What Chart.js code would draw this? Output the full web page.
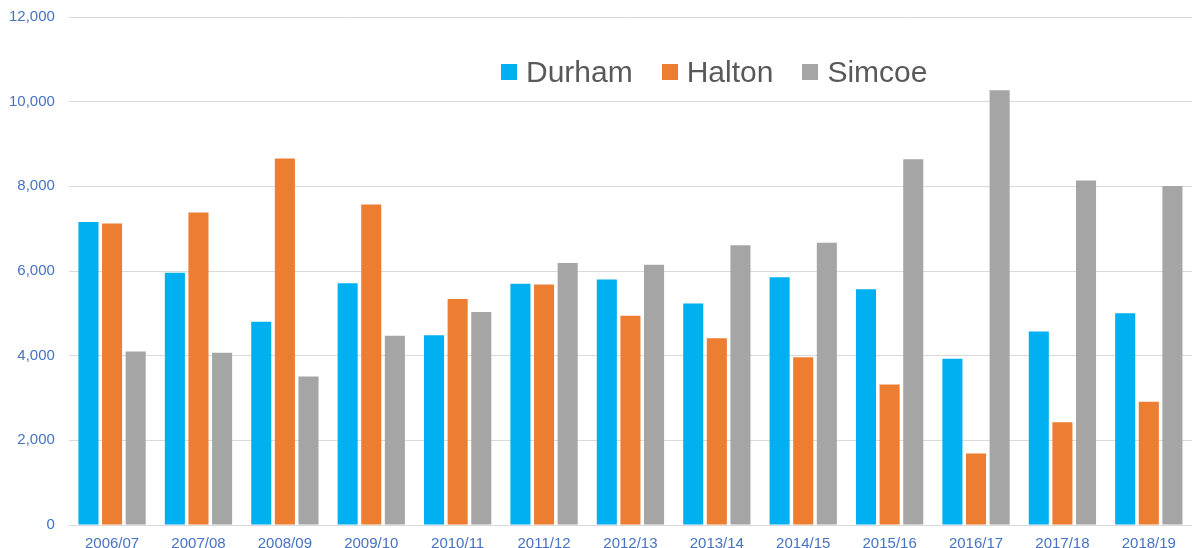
<!DOCTYPE html>
<html>
<head>
<meta charset="utf-8">
<script src="https://cdn.jsdelivr.net/npm/chart.js@4.4.0/dist/chart.umd.min.js"></script>
<style>
  body { margin: 0; background: #fff; overflow: hidden; }
  .wrap { position: relative; width: 1192px; height: 548px; overflow: hidden; }
  .plot { position: absolute; left: 0; top: -6px; width: 1192px; height: 554px; }
  #legend {
    position: absolute; left: 501px; top: 55px;
    display: flex; align-items: center;
    font-family: "Liberation Sans", Arial, sans-serif; font-size: 30px; color: #595959;
  }
  #legend .item { display: flex; align-items: center; margin-right: 29px; }
  #legend .box { width: 16px; height: 16px; margin-right: 9px; }
</style>
</head>
<body>
<div class="wrap">
  <div class="plot"><canvas id="regionChart"></canvas></div>
  <div id="legend"></div>
</div>
<script>
// fiscal years
const labels = ["2006/07", "2007/08", "2008/09", "2009/10", "2010/11", "2011/12", "2012/13",
  "2013/14", "2014/15", "2015/16", "2016/17", "2017/18", "2018/19"];

// values
const durham = [7160, 5960, 4800, 5710, 4480, 5700, 5800, 5230, 5850, 5570, 3930, 4570, 5000];
const halton = [7120, 7380, 8660, 7570, 5340, 5680, 4940, 4410, 3960, 3320, 1690, 2430, 2910];
const simcoe = [4100, 4070, 3510, 4470, 5030, 6190, 6150, 6610, 6670, 8640, 10270, 8140, 8010];

const yTicks = [0, 2000, 4000, 6000, 8000, 10000, 12000];

const ctx = document.getElementById("regionChart");
const chart = new Chart(ctx, {
  type: "bar",
  data: {
    labels: labels,
    datasets: [
      { label: "Durham", data: durham, backgroundColor: "#00B0F0" },
      { label: "Halton", data: halton, backgroundColor: "#ED7D31" },
      { label: "Simcoe", data: simcoe, backgroundColor: "#A5A5A5" },
    ],
  },
  options: {
    responsive: true,
    maintainAspectRatio: false,
    animation: false,
    datasets: {
      bar: {
        categoryPercentage: 0.82,
        barPercentage: 0.85,
      },
    },
    layout: {
      padding: { top: 0, right: 0, left: -5, bottom: -11 },
    },
    plugins: {
      legend: { display: false },
      tooltip: { enabled: false },
    },
    scales: {
      y: {
        min: yTicks[0],
        max: yTicks[yTicks.length - 1],
        afterBuildTicks: (axis) => {
          axis.ticks = yTicks.map((v) => ({ value: v }));
        },
        grid: {
          color: "#d9d9d9",
          lineWidth: 1,
          drawTicks: false,
        },
        border: { display: false },
        ticks: {
          color: "#4472C4",
          padding: 14,
          font: { family: "Liberation Sans", size: 15 },
          callback: (value) => value.toLocaleString("en-US"),
        },
      },
      x: {
        grid: { display: false },
        border: { display: false },
        ticks: {
          color: "#4472C4",
          padding: 2,
          maxRotation: 0,
          font: { family: "Liberation Sans", size: 15 },
        },
      },
    },
  },
});

// html legend built from the datasets
const legendEl = document.getElementById("legend");
chart.data.datasets.forEach(function (ds) {
  const item = document.createElement("div");
  item.className = "item";
  item.innerHTML = `<span class="box" style="background:${ds.backgroundColor}"></span><span>${ds.label}</span>`;
  legendEl.appendChild(item);
});
</script>
</body>
</html>
